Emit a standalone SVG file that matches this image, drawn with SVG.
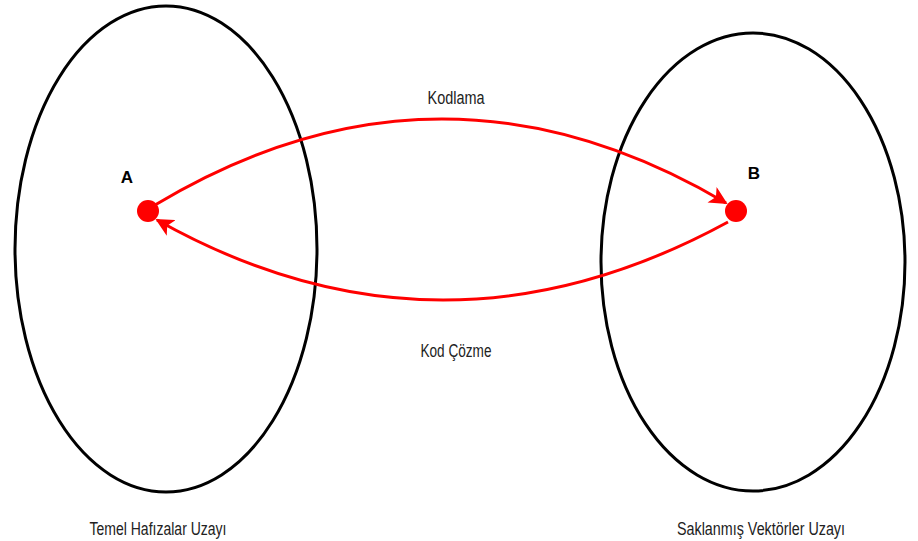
<svg xmlns="http://www.w3.org/2000/svg" width="918" height="541" viewBox="0 0 918 541">
<defs>
<style>
.space{fill:none;stroke:#000;stroke-width:3}
.arc{fill:none;stroke:#f00;stroke-width:3}
.lbl{font-family:"Liberation Sans",Arial,sans-serif;font-size:17.5px;fill:#222;text-anchor:middle}
.pt{font-family:"Liberation Sans",Arial,sans-serif;font-size:17px;font-weight:bold;fill:#000;text-anchor:middle}
.dot{fill:#f00}
</style>
<marker id="ah" viewBox="0 0 10 10" refX="9" refY="5" markerWidth="6" markerHeight="6" orient="auto" markerUnits="strokeWidth">
<path d="M0,0 L10,5 L0,10 L2.5,5 z" fill="#f00"/>
</marker>
</defs>
<g id="space-left">
<ellipse class="space" cx="166" cy="249" rx="151" ry="243"/>
<text class="lbl" x="158" y="535" textLength="137" lengthAdjust="spacingAndGlyphs">Temel Hafızalar Uzayı</text>
</g>
<g id="space-right">
<ellipse class="space" cx="753" cy="262" rx="152" ry="229"/>
<text class="lbl" x="761" y="535" textLength="168" lengthAdjust="spacingAndGlyphs">Saklanmış Vektörler Uzayı</text>
</g>
<g id="connectors">
<path class="arc" d="M155,205 Q440,34 726,203" marker-end="url(#ah)"/>
<text class="lbl" x="456" y="104" textLength="57" lengthAdjust="spacingAndGlyphs">Kodlama</text>
<path class="arc" d="M728,222 Q440,379 157,220" marker-end="url(#ah)"/>
<text class="lbl" x="456" y="357" textLength="71" lengthAdjust="spacingAndGlyphs">Kod Çözme</text>
</g>
<g id="node-A">
<circle class="dot" cx="148" cy="211" r="11"/>
<text class="pt" x="127" y="183">A</text>
</g>
<g id="node-B">
<circle class="dot" cx="736" cy="211" r="11"/>
<text class="pt" x="754" y="179">B</text>
</g>
</svg>
